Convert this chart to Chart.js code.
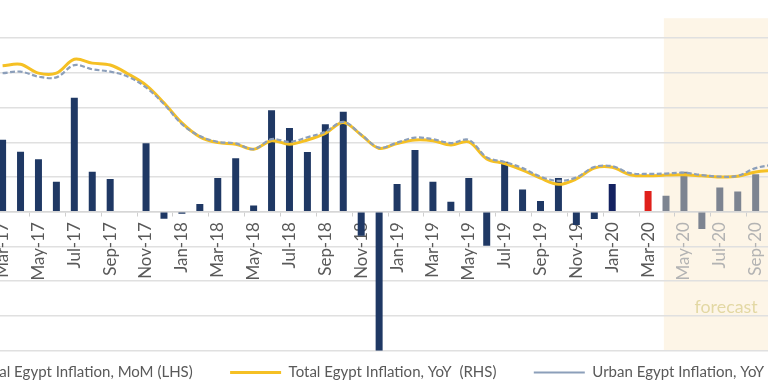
<!DOCTYPE html>
<html>
<head>
<meta charset="utf-8">
<script src="https://cdn.jsdelivr.net/npm/chart.js@4.4.1/dist/chart.umd.min.js"></script>
<style>
  html, body { margin: 0; padding: 0; width: 768px; height: 384px; overflow: hidden; background: #ffffff; }
  #wrap { position: relative; width: 768px; height: 384px; overflow: hidden; }
  #wrap canvas { position: absolute; top: 0; }
</style>
</head>
<body>
<div id="wrap"><canvas id="c"></canvas></div>
<script>
// ---------------- data ----------------
const categories = [
  'Mar-17','Apr-17','May-17','Jun-17','Jul-17','Aug-17','Sep-17','Oct-17','Nov-17','Dec-17',
  'Jan-18','Feb-18','Mar-18','Apr-18','May-18','Jun-18','Jul-18','Aug-18','Sep-18','Oct-18','Nov-18','Dec-18',
  'Jan-19','Feb-19','Mar-19','Apr-19','May-19','Jun-19','Jul-19','Aug-19','Sep-19','Oct-19','Nov-19','Dec-19',
  'Jan-20','Feb-20','Mar-20','Apr-20','May-20','Jun-20','Jul-20','Aug-20','Sep-20','Oct-20'
];
// Total Egypt inflation, month on month, % (left axis)
const momTotal = [
  2.07, 1.73, 1.51, 0.86, 3.28, 1.15, 0.94, 0, 1.97, -0.2,
  -0.06, 0.22, 0.97, 1.54, 0.18, 2.92, 2.41, 1.72, 2.52, 2.88, -0.69, -4.0,
  0.8, 1.78, 0.86, 0.29, 0.97, -0.98, 1.44, 0.64, 0.31, 0.97, -0.38, -0.21,
  0.8, 0, 0.6, 0.46, 1.15, -0.5, 0.7, 0.58, 1.08, null
];
// Total Egypt inflation, year on year, % (right axis)
const yoyTotal = [
  33.8, 34.2, 31.9, 31.9, 35.5, 34.5, 34.0, 31.7, 28.8, 24.2,
  19.0, 15.4, 13.9, 13.5, 12.2, 14.4, 13.5, 14.6, 16.3, 19.1, 15.9, 12.4,
  13.7, 14.6, 14.4, 13.3, 14.1, 9.7, 8.5, 6.8, 4.7, 3.1, 4.5, 7.3,
  7.5, 5.6, 5.3, 5.5, 5.6, 5.3, 5.0, 5.2, 6.3, 6.7
];
// Urban Egypt inflation, year on year, % (right axis)
const yoyUrban = [
  31.9, 32.3, 31.0, 30.8, 34.0, 32.9, 32.3, 31.0, 28.2, 23.9,
  18.7, 15.6, 14.1, 13.7, 12.2, 14.8, 14.1, 15.3, 16.7, 19.3, 16.0, 12.6,
  13.9, 15.2, 14.8, 13.8, 14.6, 10.1, 8.9, 7.3, 5.1, 4.0, 4.9, 7.6,
  7.8, 6.0, 5.8, 5.9, 6.1, 5.5, 5.1, 5.3, 7.3, 8.2
];
const legendTexts = [
  'Total Egypt Inflation, MoM (LHS)',
  'Total Egypt Inflation, YoY  (RHS)',
  'Urban Egypt Inflation, YoY (RHS)'
];
const forecastStart = 'Apr-20';
const highlightLatest = 'Mar-20';
const highlightDark = 'Jan-20';
const forecastText = 'forecast';
const leftAxis = { min: -4, max: 6, step: 1 };
const rightAxis = { min: -40, max: 50 };

// ---------------- styles / layout ----------------
const FONT = 'Lato, "Open Sans", sans-serif';
const COL_NAVY = '#1f3864', COL_DARK = '#142261', COL_RED = '#e0201b', COL_GRAY = '#7d8491';
const COL_YELLOW = '#f5c024', COL_URBAN = '#8c9fba';
const COL_TEXT = '#595959', COL_TEXT_FC = '#b3b3b3', COL_GRID = '#e0e0e0';
const COL_SHADE = '#fdf5e7', COL_FC_TEXT = '#e3d8a4';

const H = 384;
const SPACING = 17.93, FIRST_X = 2.6;
const AREA_TOP = 3.3, AREA_BOTTOM = 350.7;
const LEG_X2 = 230, LEG_X3 = 533.7, LEG_BOX = 51, LEG_Y = 372.5;

const mctx = document.createElement('canvas').getContext('2d');
function widthAt(text, size) { mctx.font = size + 'px ' + FONT; return mctx.measureText(text).width; }
function fitSize(text, target) { return 100 * target / widthAt(text, 100); }

const AXIS_FS = fitSize('Sep-17Jan-18', 104);
const LEG_FS = fitSize(legendTexts[1], 208);
const FC_FS = fitSize(forecastText, 63);

const T = legendTexts.map(t => widthAt(t, LEG_FS));
const half = LEG_FS / 2;
const PAD = LEG_X3 - LEG_X2 - LEG_BOX - half - T[1];
const w = T.map(t => LEG_BOX + half + t);
const L = w.reduce((a, b) => a + b + PAD, 0);

const areaLeft = FIRST_X - SPACING / 2;
const areaW = SPACING * categories.length;
const D = 2 * (LEG_X2 - w[0] - PAD - areaLeft) - PAD - areaW + L;   // B - A
let S = Math.max(w[0] + w[1] + w[2] + 4 * PAD + 30 - areaW, Math.abs(D) + 40);
let A = (S - D) / 2;
const canvasLeft = Math.floor(areaLeft - A);
A = areaLeft - canvasLeft;
const Wc = Math.ceil(A + areaW + A + D);
const B = Wc - A - areaW;

const legendHeight = LEG_FS + PAD + 10;
const PAD_BOTTOM = H - AREA_BOTTOM - legendHeight;

const fcIdx = categories.indexOf(forecastStart);
const barColors = categories.map((c, i) => {
  if (i >= fcIdx) return COL_GRAY;
  if (c === highlightLatest) return COL_RED;
  if (c === highlightDark) return COL_DARK;
  return COL_NAVY;
});

const cv = document.getElementById('c');
cv.width = Wc; cv.height = H;
cv.style.width = Wc + 'px'; cv.style.height = H + 'px';
cv.style.left = canvasLeft + 'px';

const forecastPlugin = {
  id: 'forecastZone',
  beforeDraw(chart) {
    const { ctx, chartArea, scales: { x, y } } = chart;
    const x0 = x.getPixelForValue(fcIdx - 0.12);
    const yTop = y.getPixelForValue(5.57);
    const yBot = y.getPixelForValue(leftAxis.min);
    ctx.save();
    ctx.fillStyle = COL_SHADE;
    ctx.fillRect(x0, yTop, chartArea.right - x0, yBot - yTop);
    ctx.restore();
  },
  beforeDatasetsDraw(chart) {
    const { ctx, scales: { x, y } } = chart;
    const cx = x.getPixelForValue(categories.indexOf('Jul-20') + 0.35);
    const cy = y.getPixelForValue(-2.75);
    ctx.save();
    ctx.font = FC_FS + 'px ' + FONT;
    ctx.fillStyle = COL_FC_TEXT;
    ctx.textAlign = 'center';
    ctx.textBaseline = 'middle';
    ctx.fillText(forecastText, cx, cy);
    ctx.restore();
  }
};

const legendShift = {
  id: 'legendShift',
  afterLayout(chart) {
    const lg = chart.legend;
    if (!lg) return;
    const dy = LEG_Y - (lg.top + lg.options.labels.padding + LEG_FS / 2);
    lg.top += dy; lg.bottom += dy;
  }
};

new Chart(cv, {
  type: 'bar',
  data: {
    labels: categories,
    datasets: [
      {
        type: 'bar', label: legendTexts[0], data: momTotal, yAxisID: 'y',
        backgroundColor: barColors, borderWidth: 0,
        barPercentage: 0.39, categoryPercentage: 1, order: 3, pointStyle: 'rect'
      },
      {
        type: 'line', label: legendTexts[1], data: yoyTotal, yAxisID: 'y2',
        borderColor: COL_YELLOW, backgroundColor: COL_YELLOW, borderWidth: 3,
        pointRadius: 0, tension: 0.35, fill: false, order: 2, pointStyle: 'line'
      },
      {
        type: 'line', label: legendTexts[2], data: yoyUrban, yAxisID: 'y2',
        borderColor: COL_URBAN, backgroundColor: COL_URBAN, borderWidth: 2.2,
        borderDash: [5, 2.5], pointRadius: 0, tension: 0.35, fill: false, order: 1, pointStyle: 'line'
      }
    ]
  },
  options: {
    responsive: false,
    maintainAspectRatio: false,
    devicePixelRatio: 1,
    animation: false,
    events: [],
    layout: { padding: { top: AREA_TOP, bottom: PAD_BOTTOM, left: 0, right: 0 } },
    plugins: {
      tooltip: { enabled: false },
      legend: {
        position: 'bottom',
        align: 'center',
        labels: {
          usePointStyle: true,
          pointStyleWidth: LEG_BOX,
          padding: PAD,
          color: COL_TEXT,
          font: { family: FONT, size: LEG_FS },
          sort: (a, b) => a.datasetIndex - b.datasetIndex
        }
      }
    },
    scales: {
      x: {
        type: 'category',
        position: { y: 0 },
        offset: true,
        grid: {
          offset: true, drawOnChartArea: false, drawTicks: true, tickLength: 4, lineWidth: 1,
          color: c => (c.index % 2 === 0 ? '#cfcfcf' : 'rgba(0,0,0,0)')
        },
        border: { display: true, color: '#d6d6d6', width: 1.5 },
        ticks: {
          autoSkip: false, minRotation: 90, maxRotation: 90, padding: 6.5,
          font: { family: FONT, size: AXIS_FS },
          color: c => (c.index >= fcIdx ? COL_TEXT_FC : COL_TEXT),
          callback: (v, i) => (i % 2 === 0 ? categories[i] : '')
        }
      },
      y: {
        position: 'left',
        min: leftAxis.min, max: leftAxis.max,
        ticks: { display: false, stepSize: leftAxis.step },
        grid: {
          drawTicks: false, lineWidth: 1.5,
          color: c => (c.tick && c.tick.value === leftAxis.max ? 'rgba(0,0,0,0)' : COL_GRID)
        },
        border: { display: false },
        afterFit: s => { s.width = A; }
      },
      y2: {
        position: 'right',
        min: rightAxis.min, max: rightAxis.max,
        ticks: { display: false },
        grid: { drawOnChartArea: false, drawTicks: false },
        border: { display: false },
        afterFit: s => { s.width = B; }
      }
    }
  },
  plugins: [forecastPlugin, legendShift]
});
</script>
</body>
</html>
